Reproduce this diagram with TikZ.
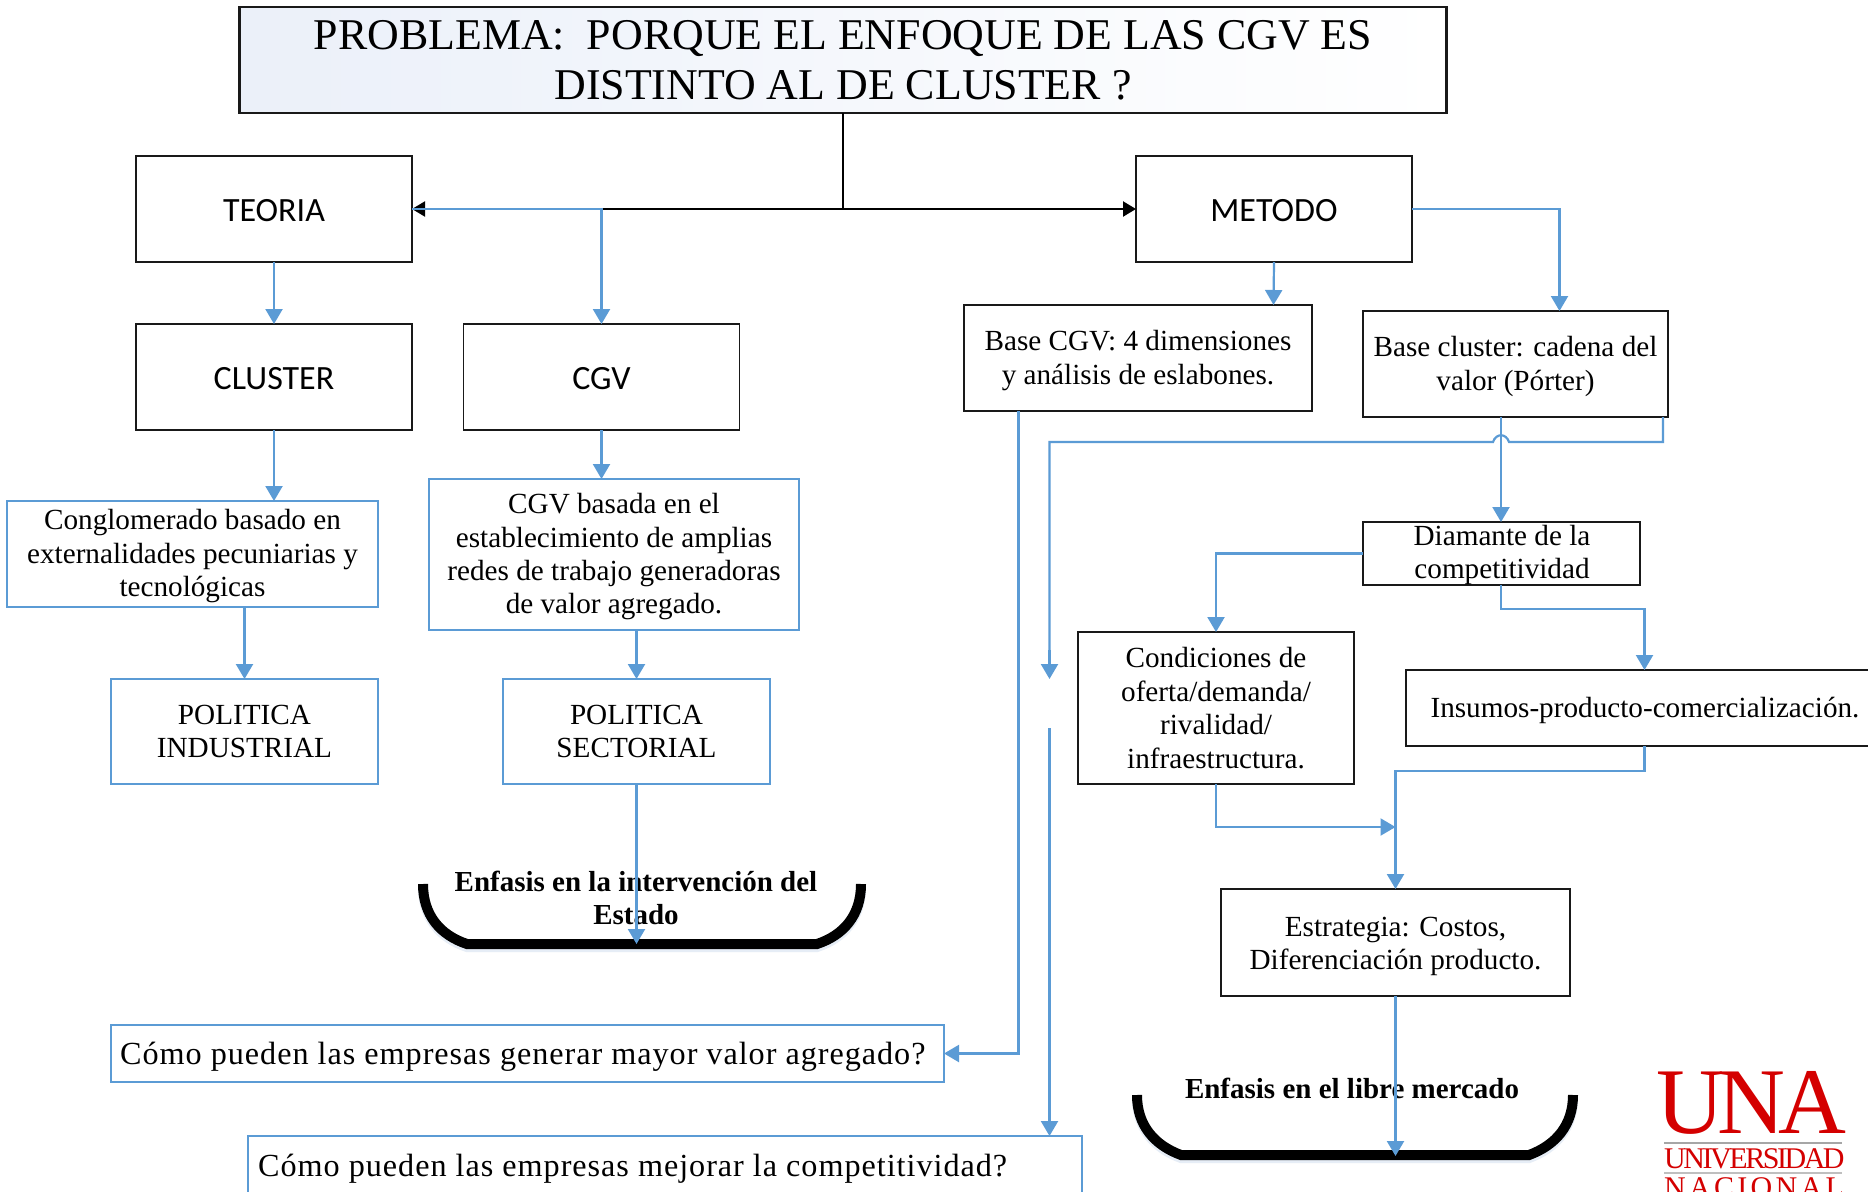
\documentclass[tikz,border=0pt]{standalone}
\usepackage{fontspec}
\setmainfont{Liberation Serif}
\newfontfamily\calib{Carlito}
\newfontfamily\spaced[LetterSpace=3]{Liberation Serif}
\newfontfamily\logoA[LetterSpace=-7]{Liberation Serif}
\newfontfamily\logoB[LetterSpace=-8.2]{Liberation Serif}
\newfontfamily\logoC[LetterSpace=11]{Liberation Serif}
\usetikzlibrary{arrows.meta,calc}
\definecolor{azul}{HTML}{5B9BD5}
\definecolor{sombra}{HTML}{E6EDF6}
\definecolor{rojo}{HTML}{D40000}
\definecolor{tituloclaro}{HTML}{EBF0F9}
\newcommand{\bx}[7]{%
  \pgfmathsetmacro{\cxx}{(#2+#4)/2}\pgfmathsetmacro{\cyy}{(#3+#5)/2}%
  \pgfmathsetmacro{\wxx}{#4-#2}\pgfmathsetmacro{\hyy}{#5-#3}%
  \node[#6,minimum width=\wxx pt,minimum height=\hyy pt] (#1) at (\cxx,\cyy) {#7};}
\newcommand{\dn}{\rule{0pt}{25pt}}
\newcommand{\dnn}{\rule{0pt}{27pt}}
\tikzset{
  x=1pt,y=-1pt,
  boxbase/.style={inner sep=0pt,outer sep=0pt,align=center,text=black},
  blackbox/.style={boxbase,draw=black!90,line width=1.9pt,font=\fontsize{29.2}{33.4}\selectfont},
  sansbox/.style={boxbase,draw=black!90,line width=1.9pt,font=\calib\fontsize{34}{40}\selectfont},
  bluebox/.style={boxbase,draw=azul,line width=1.9pt,font=\fontsize{29.2}{33.4}\selectfont},
  qbox/.style={boxbase,draw=azul,line width=1.9pt},
  qtext/.style={anchor=base west,inner sep=0pt,font=\spaced\fontsize{32.2}{38}\selectfont},
  labeltext/.style={inner sep=0pt,align=center,font=\fontsize{29.2}{33.4}\selectfont},
  titlebox/.style={boxbase,draw=black!90,line width=2.2pt,left color=tituloclaro,right color=white,font=\fontsize{43.9}{50}\selectfont},
  blink/.style={draw=azul,line width=2.2pt,-{Triangle[length=15pt,width=17pt]}},
  blinkp/.style={draw=azul,line width=2.2pt},
  klink/.style={draw=black,line width=2.2pt,-{Triangle[length=13pt,width=15pt]}},
  bracketline/.style={draw=black,line width=10pt,line cap=butt},
  bracketshadow/.style={draw=sombra,line width=10pt,line cap=butt},
  emph/.style={inner sep=0pt,align=center,font=\bfseries\fontsize{29}{33.4}\selectfont},
}
\begin{document}
\begin{tikzpicture}
\useasboundingbox (0,0) rectangle (1868,1191);
\clip (0,0) rectangle (1868,1191);
\fill[white] (0,0) rectangle (1868,1191);

% brackets
\draw[bracketshadow,yshift=-3pt] (423,884) .. controls (423,915) and (440,935) .. (467,944) -- (817,944) .. controls (844,935) and (861,915) .. (861,884);
\draw[bracketline] (423,884) .. controls (423,915) and (440,935) .. (467,944) -- (817,944) .. controls (844,935) and (861,915) .. (861,884);
\draw[bracketshadow,yshift=-3pt] (1137,1095) .. controls (1137,1125) and (1154,1145) .. (1181,1155) -- (1529,1155) .. controls (1556,1145) and (1573,1125) .. (1573,1095);
\draw[bracketline] (1137,1095) .. controls (1137,1125) and (1154,1145) .. (1181,1155) -- (1529,1155) .. controls (1556,1145) and (1573,1125) .. (1573,1095);

% boxes
\bx{title}{239.5}{7}{1446.5}{113}{titlebox}{PROBLEMA:\ \ PORQUE EL ENFOQUE DE LAS CGV ES\\DISTINTO AL DE CLUSTER ?}
\bx{teoria}{136}{156}{412}{262}{sansbox}{\dn TEORIA}
\bx{metodo}{1136}{156}{1412}{262}{sansbox}{\dn METODO}
\bx{cluster}{136}{324}{412}{430}{sansbox}{\dn CLUSTER}
\bx{cgv}{463.5}{324}{739.5}{430}{sansbox}{\dn CGV}
\bx{basecgv}{964}{305}{1312}{411}{blackbox}{\dn Base CGV: 4 dimensiones\\y análisis de eslabones.}
\bx{basecluster}{1363}{311}{1668}{417}{blackbox}{\dn Base cluster: cadena del\\valor (Pórter)}
\bx{congl}{7}{501}{378}{607}{bluebox}{\dn Conglomerado basado en\\externalidades pecuniarias y\\tecnológicas}
\bx{cgvbas}{429}{479}{799}{630}{bluebox}{\dn CGV basada en el\\establecimiento de amplias\\redes de trabajo generadoras\\de valor agregado.}
\bx{polind}{111}{679}{378}{784}{bluebox}{POLITICA\\INDUSTRIAL}
\bx{polsec}{503}{679}{770}{784}{bluebox}{POLITICA\\SECTORIAL}
\bx{diamante}{1363}{522}{1640}{585}{blackbox}{}
\node[labeltext] (diamtext) at (1502,555) {Diamante de la\\competitividad};
\bx{condic}{1078}{632}{1354}{784}{blackbox}{Condiciones de\\oferta/demanda/\\rivalidad/\\infraestructura.}
\bx{insumos}{1406}{670}{1890}{746}{blackbox}{\dn\hspace*{-6pt}Insumos-producto-comercialización.}
\bx{estrat}{1221}{889}{1570}{996}{blackbox}{\dnn Estrategia: Costos,\\Diferenciación producto.}
\bx{q1}{111}{1025}{944}{1082}{qbox}{}
\node[qtext] (q1text) at (120,1064) {Cómo pueden las empresas generar mayor valor agregado?};
\node[boxbase,draw=azul,line width=1.9pt,minimum width=834pt,minimum height=80pt,anchor=north west] (q2) at (248,1136) {};
\node[qtext] (q2text) at (258,1176) {Cómo pueden las empresas mejorar la competitividad?};

\node[emph] (enf1) at (636,898) {Enfasis en la intervención del\\Estado};
\node[emph] (enf2) at (1352,1088) {Enfasis en el libre mercado};

% logo
\node[anchor=base west,inner sep=0pt,text=rojo,font=\logoA\fontsize{94}{94}\selectfont] (una) at (1656,1133) {UNA};
\draw[black!35,line width=2.4pt] (1664,1143) -- (1842,1143);
\node[anchor=base west,inner sep=0pt,text=rojo,font=\logoB\fontsize{30}{30}\selectfont] (univ) at (1664,1168) {UNIVERSIDAD};
\draw[black!25,line width=2pt] (1664,1172.5) -- (1842,1172.5);
\node[anchor=base west,inner sep=0pt,text=rojo,font=\logoC\fontsize{30}{30}\selectfont] (nac) at (1664,1197) {NACIONAL};

% black connectors
\coordinate (tj) at (title.south |- teoria.east);
\draw[black,line width=2pt] (title.south) -- (tj);
\draw[klink] (tj) -- (teoria.east);
\draw[klink] (tj) -- (metodo.west);

% blue connectors
\draw[blink] (teoria.east) -| (cgv.north);
\draw[blink] (teoria.south) -- (cluster.north);
\draw[blink] (cluster.south) -- (congl.north -| cluster.south);
\coordinate (c1) at (244.5,607);
\draw[blink] (c1) -- (polind.north);
\draw[blink] (cgv.south) -- (cgvbas.north -| cgv.south);
\coordinate (c2) at (636.5,630);
\draw[blink] (c2) -- (polsec.north);
\coordinate (enf1tip) at (636.5,944);
\draw[blink] (polsec.south) -- (enf1tip);

\coordinate (m1) at (1273.5,305);
\draw[blink] (metodo.south) -- (m1);
\coordinate (m2) at (1559.5,311);
\draw[blink] (metodo.east) -| (m2);

\coordinate (b1) at (1018.5,411);
\draw[blink] (b1) |- (q1.east);

\coordinate (bc1) at (1501,417);
\coordinate (d1) at (1501,522);
\draw[blink] (bc1) -- (d1);
\coordinate (bc2) at (1663,417);
\coordinate (gap1) at (1049.5,679);
\coordinate (gap2) at (1049.5,728);
\coordinate (q2a) at (1049.5,1136);
\draw[blinkp] (bc2) -- (1663,442) -- (1509,442) .. controls (1506,433) and (1496,433) .. (1493,442) -- (1049.5,442) -- (1049.5,660);
\draw[blink] (1049.5,650) -- (gap1);
\draw[blink] (gap2) -- (q2a);

\coordinate (d2) at (1501,585);
\draw[blink] (diamante.west) -| (condic.north);
\coordinate (i1) at (1644.5,670);
\draw[blink] (d2) -- (1501,609) -| (i1);
\coordinate (i2) at (1644.5,746);
\coordinate (e1) at (1395.5,889);
\draw[blink] (i2) -- (1644.5,771) -| (e1);
\coordinate (cs) at (condic.south);
\coordinate (e0) at (1395.5,827);
\draw[blink] (cs) |- (e0);
\coordinate (e2) at (1395.5,996);
\coordinate (e3) at (1395.5,1156);
\draw[blink] (e2) -- (e3);
\end{tikzpicture}
\end{document}
